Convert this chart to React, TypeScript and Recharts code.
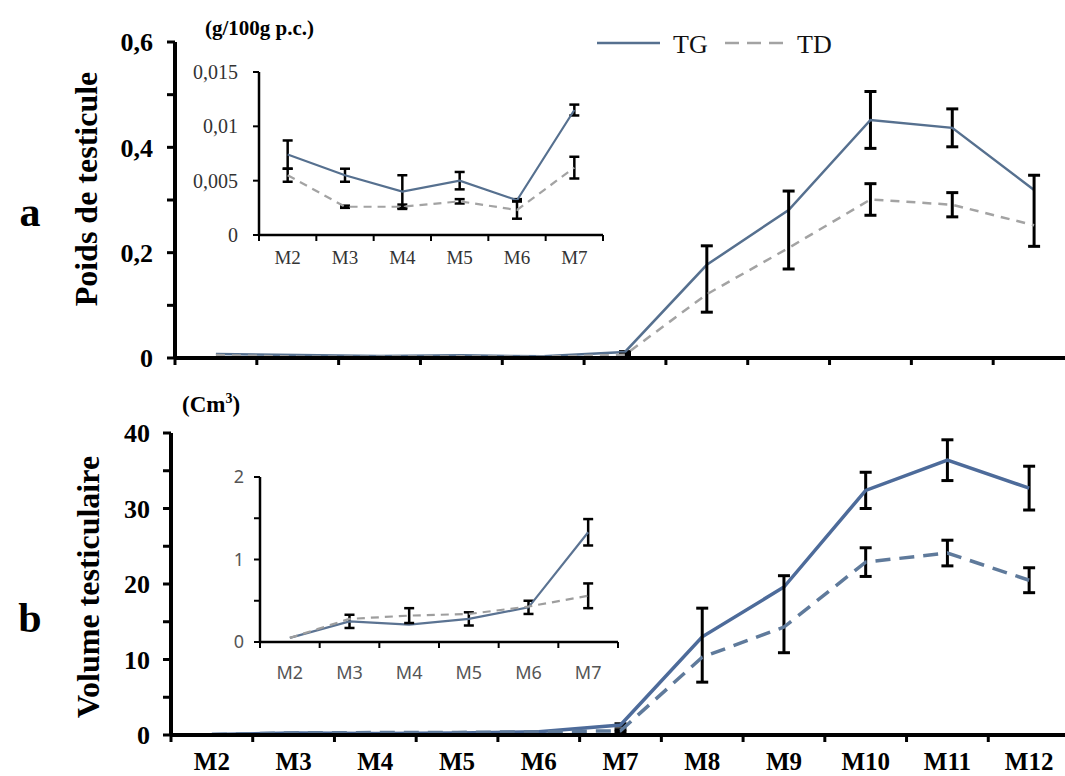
import { LineChart, Line, XAxis, YAxis, ErrorBar, Legend } from 'recharts';

const months = ['M2', 'M3', 'M4', 'M5', 'M6', 'M7', 'M8', 'M9', 'M10', 'M11', 'M12'];
const monthNums = [2, 3, 4, 5, 6, 7, 8, 9, 10, 11, 12];

// a) Poids de testicule (g/100g p.c.)
const tgWeight = [0.0074, 0.0055, 0.004, 0.005, 0.0032, 0.0115, 0.177, 0.281, 0.452, 0.437, 0.319];
const tdWeight = [0.0055, 0.0026, 0.0026, 0.0031, 0.0023, 0.0062, 0.121, 0.209, 0.301, 0.291, 0.252];
const tgWeightErr = [0.0013, 0.0006, 0.0015, 0.0008, 0.0001, 0.0005, null, null, 0.054, 0.036, null];
const tdWeightErr = [0.0006, 0.0001, 0.0002, 0.0002, 0.0008, 0.001, [0.034, 0.092], [0.04, 0.108], 0.03, 0.023, [0.04, 0.095]];

// b) Volume testiculaire (cm3)
const tgVolume = [0.05, 0.25, 0.21, 0.28, 0.42, 1.33, 13.0, 19.6, 32.4, 36.4, 32.7];
const tdVolume = [0.05, 0.28, 0.32, 0.34, 0.43, 0.56, 10.3, 14.3, 22.9, 24.1, 20.5];
const tgVolumeErr = [null, 0.08, null, 0.08, 0.08, 0.16, null, null, 2.4, 2.7, 2.9];
const tdVolumeErr = [null, null, 0.09, null, null, 0.15, [3.3, 6.5], [3.4, 6.8], 1.9, 1.7, 1.65];

// axis ticks
const mainXTicks = [1.5, 2, 2.5, 3, 3.5, 4, 4.5, 5, 5.5, 6, 6.5, 7, 7.5, 8, 8.5, 9, 9.5, 10, 10.5, 11, 11.5, 12, 12.5];
const insetXTicks = [1.5, 2, 2.5, 3, 3.5, 4, 4.5, 5, 5.5, 6, 6.5, 7, 7.5];
const weightTicks = [0, 0.1, 0.2, 0.3, 0.4, 0.5, 0.6];
const weightLabels = [0, 0.2, 0.4, 0.6];
const insetWeightTicks = [0, 0.005, 0.01, 0.015];
const volumeTicks = [0, 5, 10, 15, 20, 25, 30, 35, 40];
const volumeLabels = [0, 10, 20, 30, 40];
const insetVolumeTicks = [0, 0.5, 1, 1.5, 2];
const insetVolumeLabels = [0, 1, 2];

const legendOrder = ['TG', 'TD'];
const legendDash: Record<string, string | undefined> = { TG: undefined, TD: '14 8' };

const SERIF = '"Liberation Serif", "Times New Roman", serif';
const SANS = '"Noto Sans", "Open Sans", sans-serif';

const weightRows = monthNums.map((m, i) => ({ m, tg: tgWeight[i], td: tdWeight[i], tgErr: tgWeightErr[i], tdErr: tdWeightErr[i] }));
const volumeRows = monthNums.map((m, i) => ({ m, tg: tgVolume[i], td: tdVolume[i], tgErr: tgVolumeErr[i], tdErr: tdVolumeErr[i] }));
// main charts only show the bars from M7 on (earlier ones are sub-pixel)
const mainWeightRows = weightRows.map((r, i) => (i < 5 ? { ...r, tgErr: null, tdErr: null } : r));
const mainVolumeRows = volumeRows.map((r, i) => (i < 5 ? { ...r, tgErr: null, tdErr: null } : r));
const insetWeightRows = weightRows.slice(0, 6);
const insetVolumeRows = volumeRows.slice(0, 6);

const comma = (v: number) => String(v).replace('.', ',');
const only = (list: number[]) => (v: number) => (list.includes(v) ? comma(v) : '');

type TickOpts = { mark: number; markWidth: number; labels: boolean; gap?: number; font?: string; size?: number; weight?: string; fill?: string };

// ticks at category boundaries (half values), month names at the centres
const monthTick = (o: TickOpts) => (props: any) => {
  const { x, y, payload } = props;
  const v = payload.value;
  if (v % 1 !== 0) {
    return <line x1={x} x2={x} y1={y} y2={y + o.mark} stroke="#000" strokeWidth={o.markWidth} />;
  }
  if (!o.labels) return <g />;
  return (
    <text x={x} y={y + (o.gap || 0)} textAnchor="middle" dominantBaseline="central"
      fontFamily={o.font} fontSize={o.size} fontWeight={o.weight} fill={o.fill}>
      {months[v - 2]}
    </text>
  );
};

const LegendBox = ({ payload }: any) => {
  const items = legendOrder.map((n) => (payload || []).find((p: any) => p.value === n)).filter(Boolean);
  return (
    <svg width={260} height={40} style={{ display: 'block' }}>
      {items.map((p: any, i: number) => (
        <g key={p.value} transform={`translate(${i * 128},0)`}>
          <line x1={7} x2={70} y1={18} y2={18} stroke={p.color} strokeWidth={2.5} strokeDasharray={legendDash[p.value]} />
          <text x={i === 1 ? 79 : 83} y={19} dominantBaseline="central" fontFamily={SERIF} fontSize={26} fill="#111">{p.value}</text>
        </g>
      ))}
    </svg>
  );
};

const mainY = {
  tick: { fill: '#000', fontSize: 26, fontWeight: 'bold', fontFamily: SERIF },
  tickSize: 8,
  axisLine: { stroke: '#000', strokeWidth: 4 },
  tickLine: { stroke: '#000', strokeWidth: 3 },
  interval: 0 as const,
};

const App = () => {
  return (
    <div style={{ position: 'absolute', left: 0, top: 0, width: 1065, height: 776, overflow: 'hidden', background: '#fff' }}>
      {/* a: main */}
      <div style={{ position: 'absolute', left: 0, top: 0 }}>
        <LineChart width={1080} height={380} data={mainWeightRows} margin={{ top: 42, right: 5, bottom: 0, left: 0 }}>
          <XAxis dataKey="m" type="number" domain={[1.5, 12.5]} ticks={mainXTicks} interval={0} height={22}
            axisLine={{ stroke: '#000', strokeWidth: 4 }} tickLine={false} tickSize={0} tickMargin={0}
            tick={monthTick({ mark: 7, markWidth: 3, labels: false })} />
          <YAxis type="number" domain={[0, 0.6]} ticks={weightTicks} width={175} tickMargin={14}
            tickFormatter={only(weightLabels)} {...mainY} />
          <Legend layout="horizontal" verticalAlign="middle" align="center" content={<LegendBox />}
            wrapperStyle={{ position: 'absolute', left: 590, top: 25, width: 260, height: 40 }} />
          <Line dataKey="tg" name="TG" stroke="#56708f" strokeWidth={2.5} dot={false} isAnimationActive={false}>
            <ErrorBar dataKey="tgErr" direction="y" stroke="#000" strokeWidth={3} width={6} />
          </Line>
          <Line dataKey="td" name="TD" stroke="#a3a3a3" strokeWidth={2.5} strokeDasharray="9 7" dot={false} isAnimationActive={false}>
            <ErrorBar dataKey="tdErr" direction="y" stroke="#000" strokeWidth={3} width={6} />
          </Line>
        </LineChart>
      </div>

      {/* a: inset M2-M7 */}
      <div style={{ position: 'absolute', left: 160, top: 50 }}>
        <LineChart width={450} height={235} data={insetWeightRows} margin={{ top: 22, right: 7, bottom: 0, left: 0 }}>
          <XAxis dataKey="m" type="number" domain={[1.5, 7.5]} ticks={insetXTicks} interval={0} height={50}
            axisLine={{ stroke: '#000', strokeWidth: 2.5 }} tickLine={false} tickSize={0} tickMargin={0}
            tick={monthTick({ mark: 6, markWidth: 2, labels: true, gap: 22, font: SERIF, size: 19, fill: '#333' })} />
          <YAxis type="number" domain={[0, 0.015]} ticks={insetWeightTicks} width={99} interval={0}
            tickFormatter={comma} tickSize={6} tickMargin={15}
            tick={{ fill: '#333', fontSize: 20, fontFamily: SERIF }}
            axisLine={{ stroke: '#000', strokeWidth: 2.5 }} tickLine={{ stroke: '#000', strokeWidth: 2 }} />
          <Line dataKey="tg" stroke="#56708f" strokeWidth={2.2} dot={false} isAnimationActive={false}>
            <ErrorBar dataKey="tgErr" direction="y" stroke="#000" strokeWidth={2.5} width={5} />
          </Line>
          <Line dataKey="td" stroke="#a3a3a3" strokeWidth={2.2} strokeDasharray="8 6" dot={false} isAnimationActive={false}>
            <ErrorBar dataKey="tdErr" direction="y" stroke="#000" strokeWidth={2.5} width={5} />
          </Line>
        </LineChart>
      </div>

      {/* b: main */}
      <div style={{ position: 'absolute', left: 0, top: 380 }}>
        <LineChart width={1075} height={396} data={mainVolumeRows} margin={{ top: 53, right: 5, bottom: 0, left: 0 }}>
          <XAxis dataKey="m" type="number" domain={[1.5, 12.5]} ticks={mainXTicks} interval={0} height={41}
            axisLine={{ stroke: '#000', strokeWidth: 4 }} tickLine={false} tickSize={0} tickMargin={0}
            tick={monthTick({ mark: 7, markWidth: 3, labels: true, gap: 26, font: SERIF, size: 25, weight: 'bold', fill: '#000' })} />
          <YAxis type="number" domain={[0, 40]} ticks={volumeTicks} width={171} tickMargin={13}
            tickFormatter={only(volumeLabels)} {...mainY} />
          <Line dataKey="tg" stroke="#4d6b9a" strokeWidth={3.5} dot={false} isAnimationActive={false}>
            <ErrorBar dataKey="tgErr" direction="y" stroke="#000" strokeWidth={3} width={6} />
          </Line>
          <Line dataKey="td" stroke="#5f7a9b" strokeWidth={3.5} strokeDasharray="15 9" dot={false} isAnimationActive={false}>
            <ErrorBar dataKey="tdErr" direction="y" stroke="#000" strokeWidth={3} width={6} />
          </Line>
        </LineChart>
      </div>

      {/* b: inset M2-M7 */}
      <div style={{ position: 'absolute', left: 160, top: 455 }}>
        <LineChart width={470} height={250} data={insetVolumeRows} margin={{ top: 22, right: 12, bottom: 0, left: 0 }}>
          <XAxis dataKey="m" type="number" domain={[1.5, 7.5]} ticks={insetXTicks} interval={0} height={63}
            axisLine={{ stroke: '#000', strokeWidth: 2.5 }} tickLine={false} tickSize={0} tickMargin={0}
            tick={monthTick({ mark: 6, markWidth: 2, labels: true, gap: 30, font: SANS, size: 18, fill: '#555' })} />
          <YAxis type="number" domain={[0, 2]} ticks={insetVolumeTicks} width={100} interval={0}
            tickFormatter={only(insetVolumeLabels)} tickSize={6} tickMargin={10}
            tick={{ fill: '#555', fontSize: 18, fontFamily: SANS }}
            axisLine={{ stroke: '#000', strokeWidth: 2.5 }} tickLine={{ stroke: '#000', strokeWidth: 2 }} />
          <Line dataKey="tg" stroke="#5b7392" strokeWidth={2.2} dot={false} isAnimationActive={false}>
            <ErrorBar dataKey="tgErr" direction="y" stroke="#000" strokeWidth={2.5} width={5} />
          </Line>
          <Line dataKey="td" stroke="#9e9e9e" strokeWidth={2.2} strokeDasharray="8 6" dot={false} isAnimationActive={false}>
            <ErrorBar dataKey="tdErr" direction="y" stroke="#000" strokeWidth={2.5} width={5} />
          </Line>
        </LineChart>
      </div>

      {/* titles, panel letters, units */}
      <svg width={1065} height={776} style={{ position: 'absolute', left: 0, top: 0, pointerEvents: 'none' }}>
        <g fontFamily={SERIF} fontWeight="bold" fill="#000">
          <text x={30} y={226} textAnchor="middle" fontSize={42}>a</text>
          <text x={30} y={632} textAnchor="middle" fontSize={42}>b</text>
          <text transform="translate(86,189) rotate(-90)" textAnchor="middle" dominantBaseline="central" fontSize={32}>Poids de testicule</text>
          <text transform="translate(88,587) rotate(-90)" textAnchor="middle" dominantBaseline="central" fontSize={32}>Volume testiculaire</text>
          <text x={205} y={35} fontSize={21}>(g/100g p.c.)</text>
          <text x={182} y={412} fontSize={23}>(Cm<tspan fontSize={14} dy={-9}>3</tspan><tspan dy={9}>)</tspan></text>
        </g>
      </svg>
    </div>
  );
};

export default App;
